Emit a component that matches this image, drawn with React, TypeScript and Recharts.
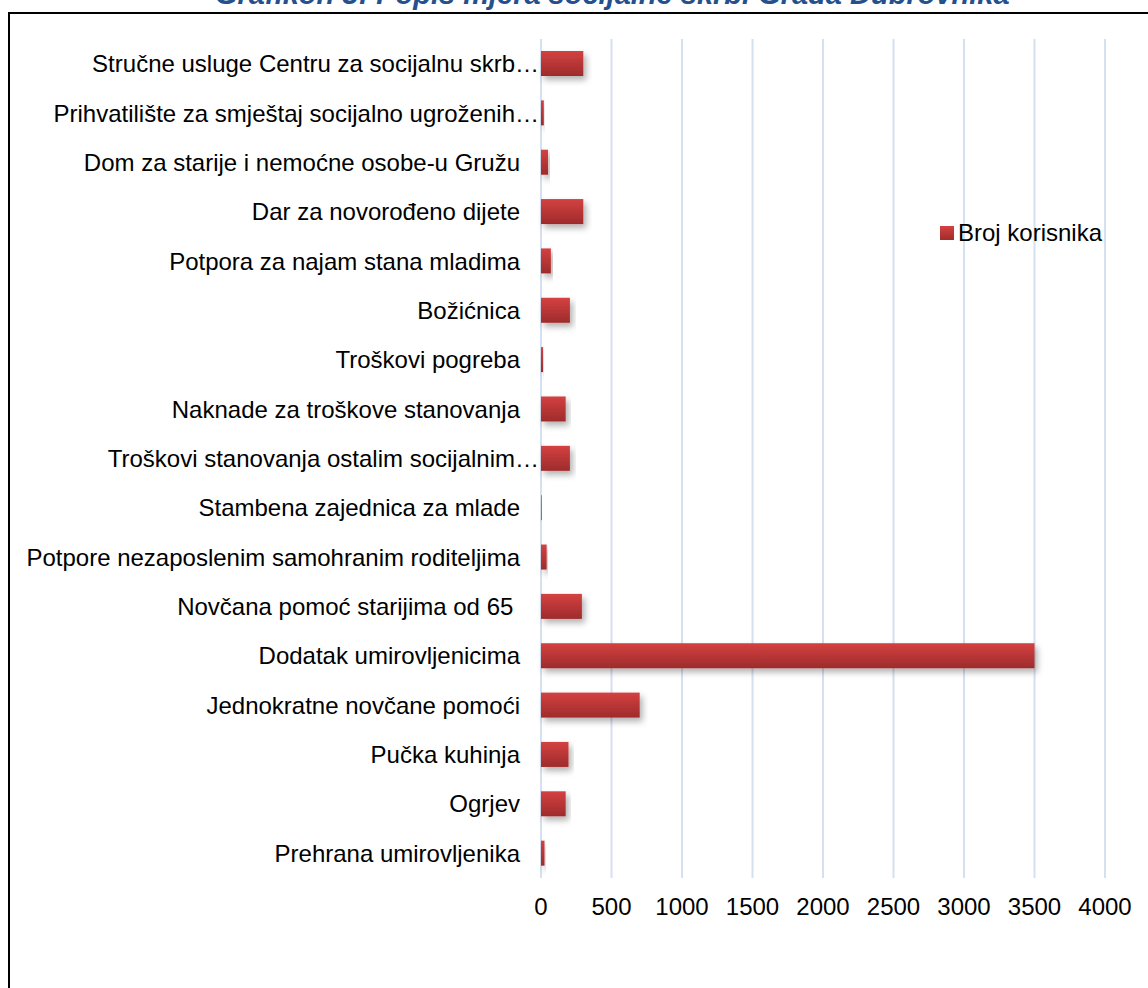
import { BarChart, Bar, XAxis, YAxis, CartesianGrid, Legend } from "recharts";

const CATEGORIES = [
    "Stručne usluge Centru za socijalnu skrb…",
    "Prihvatilište za smještaj socijalno ugroženih…",
    "Dom za starije i nemoćne osobe-u Gružu",
    "Dar za novorođeno dijete",
    "Potpora za najam stana mladima",
    "Božićnica",
    "Troškovi pogreba",
    "Naknade za troškove stanovanja",
    "Troškovi stanovanja ostalim socijalnim…",
    "Stambena zajednica za mlade",
    "Potpore nezaposlenim samohranim roditeljima",
    "Novčana pomoć starijima od 65 ",
    "Dodatak umirovljenicima",
    "Jednokratne novčane pomoći",
    "Pučka kuhinja",
    "Ogrjev",
    "Prehrana umirovljenika",
];
const KORISNICI = [300, 20, 50, 300, 70, 205, 15, 175, 205, 5, 40, 290, 3500, 700, 195, 175, 25];
const X_TICKS = [0, 500, 1000, 1500, 2000, 2500, 3000, 3500, 4000];

const FONT = '"Liberation Sans", Arial, sans-serif';
const W = 1148;
const H = 988;

const data = CATEGORIES.map((name, i) => ({ name, value: KORISNICI[i] }));

function ShadowBar(props: any) {
    const { x, y, width, height } = props;
    if (!width || width <= 0) return null;
    return <rect x={x} y={y} width={width} height={height} fill="url(#barGrad)" filter="url(#barShadow)" />;
}

// truncated labels in the original run past the label column up to the bars
function CategoryTick(props: any) {
    const { x, y, payload } = props;
    const label: string = payload.value;
    const shift = label.endsWith("…") ? 19 : 0;
    return (
        <text x={x + shift} y={y} dy="0.355em" textAnchor="end" fontSize={24} fill="#000" fontFamily={FONT}
            style={{ whiteSpace: "pre" }}>
            {label}
        </text>
    );
}

function LegendBox() {
    return (
        <div style={{ display: "flex", alignItems: "center", fontFamily: FONT, fontSize: 24, color: "#000" }}>
            <span style={{ display: "inline-block", width: 14, height: 14, marginRight: 4,
                background: "linear-gradient(#d34141, #a02c2c)" }} />
            <span>Broj korisnika</span>
        </div>
    );
}

export default function App() {
    return (
        <div style={{ position: "absolute", left: 0, top: 0, width: W, height: H, overflow: "hidden", background: "#fff" }}>
            <div style={{ position: "absolute", left: 215, top: -20, whiteSpace: "nowrap", fontFamily: FONT,
                fontSize: 29, lineHeight: "29px", fontWeight: "bold", fontStyle: "italic", color: "#24518d" }}>
                Grafikon 3: Popis mjera socijalne skrbi Grada Dubrovnika
            </div>
            <div style={{ position: "absolute", left: 8, top: 12, width: 1170, height: 1000,
                border: "2px solid #000", boxSizing: "border-box" }} />
            <div style={{ position: "absolute", left: 0, top: 0 }}>
                <BarChart width={W} height={H} data={data} layout="vertical"
                    margin={{ top: 39, right: 43, left: 0, bottom: 0 }} barSize={25}>
                    <defs>
                        <linearGradient id="barGrad" x1="0" y1="0" x2="0" y2="1">
                            <stop offset="0%" stopColor="#d44141" />
                            <stop offset="100%" stopColor="#9e2b2b" />
                        </linearGradient>
                        <filter id="barShadow" x="-10%" y="-30%" width="130%" height="190%">
                            <feDropShadow dx="3" dy="4" stdDeviation="3" floodColor="#000" floodOpacity="0.3" />
                        </filter>
                    </defs>
                    <CartesianGrid horizontal={false} stroke="#d5e0f0" strokeWidth={2} />
                    <XAxis type="number" domain={[0, 4000]} ticks={X_TICKS} height={110}
                        axisLine={false} tickLine={false} tickMargin={14}
                        tick={{ fontSize: 24, fill: "#000", fontFamily: FONT }} />
                    <YAxis type="category" dataKey="name" width={541} interval={0}
                        axisLine={false} tickLine={false} tickMargin={15}
                        tick={<CategoryTick />} />
                    <Legend layout="horizontal" verticalAlign="middle" align="center"
                        wrapperStyle={{ top: 219, left: 940, width: "auto" }} content={() => <LegendBox />} />
                    <Bar dataKey="value" name="Broj korisnika" shape={ShadowBar} isAnimationActive={false} />
                </BarChart>
            </div>
        </div>
    );
}
